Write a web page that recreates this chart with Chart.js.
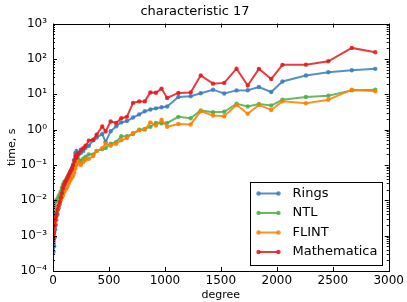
<!DOCTYPE html>
<html>
<head>
<meta charset="utf-8">
<script src="https://cdn.jsdelivr.net/npm/chart.js@4.4.0/dist/chart.umd.min.js"></script>
<style>
  html, body { margin: 0; padding: 0; background: #fff; }
  #wrap { width: 407px; height: 302px; }
</style>
</head>
<body>
<div id="wrap"><canvas id="chart" width="407" height="302"></canvas></div>
<script>
// polynomial degree for each benchmark point
const degrees = [5, 10, 15, 20, 25, 30, 40, 50, 60, 70, 80, 90, 100,
  110, 120, 130, 140, 150, 160, 170, 180, 190, 200, 210, 220, 230,
  250, 270, 290, 320, 360, 390, 440, 470, 515, 565, 610, 660, 715, 770,
  820, 870, 920, 970, 1020, 1120, 1230, 1320, 1430, 1530, 1640, 1740,
  1840, 1950, 2050, 2260, 2460, 2670, 2880];

// time in seconds
const rings = [3.5e-4, 5e-4, 9e-4, 1.5e-3, 2e-3, 2.8e-3, 4e-3, 6e-3, 8e-3, 1.1e-2, 1.5e-2, 2e-2, 2.5e-2,
  3e-2, 3.5e-2, 4.2e-2, 5e-2, 6e-2, 7e-2, 8.5e-2, 0.1, 0.14, 0.22, 0.25, 0.18, 0.2,
  0.22, 0.25, 0.3, 0.35, 0.5, 0.6, 0.75, 0.45, 0.9, 1.25, 1.6, 1.75, 2.2, 2.7,
  3.3, 3.7, 4.0, 4.3, 4.5, 8.4, 8.8, 10.7, 13.5, 10.5, 12.9, 13,
  16, 11.6, 23, 34, 42, 48, 52.5];
const ntl = [2e-3, 4e-3, 7e-3, 9e-3, 9.5e-3, 1e-2, 1.1e-2, 1.3e-2, 1.5e-2, 1.8e-2, 2.3e-2, 2.8e-2, 3.3e-2,
  3.5e-2, 3.8e-2, 4.2e-2, 4.8e-2, 5.5e-2, 6.2e-2, 7e-2, 8e-2, 9e-2, 0.1, 0.12, 0.15, 0.14,
  0.13, 0.15, 0.17, 0.2, 0.2, 0.25, 0.28, 0.3, 0.4, 0.45, 0.65, 0.65, 0.75, 1.0,
  1.05, 1.2, 1.55, 1.5, 1.55, 2.3, 2.1, 3.5, 3.1, 3.2, 5.4, 4.5,
  5.3, 4.8, 7.0, 8.4, 9.1, 12.9, 13.5];
const flint = [1e-3, 1.5e-3, 2e-3, 2.5e-3, 3e-3, 3.5e-3, 5e-3, 6.5e-3, 8e-3, 1e-2, 1.2e-2, 1.4e-2, 1.7e-2,
  2e-2, 2.2e-2, 2.5e-2, 3e-2, 3.5e-2, 4e-2, 4.5e-2, 5e-2, 6e-2, 8e-2, 0.1, 0.13, 0.11,
  0.1, 0.12, 0.14, 0.15, 0.18, 0.25, 0.3, 0.4, 0.35, 0.4, 0.5, 0.58, 0.8, 0.95,
  1.0, 1.6, 1.3, 1.9, 1.2, 1.45, 1.4, 3.3, 2.5, 2.4, 5.0, 2.8,
  5.0, 3.6, 6.3, 5.6, 7.0, 13.5, 12.1];
const mathematica = [8e-4, 1.2e-3, 2e-3, 2.8e-3, 3.5e-3, 4.2e-3, 5.5e-3, 7e-3, 9e-3, 1.2e-2, 1.6e-2, 2.2e-2, 2.8e-2,
  3.3e-2, 3.8e-2, 4.5e-2, 5.2e-2, 6e-2, 7e-2, 8e-2, 0.1, 0.13, 0.18, 0.16, 0.2, 0.22,
  0.27, 0.3, 0.35, 0.49, 0.52, 0.72, 1.23, 0.89, 1.7, 1.55, 2.1, 2.3, 5.7, 6.3,
  6.3, 11.3, 11, 14.5, 7.85, 10.9, 11.3, 34, 20, 21, 53, 17.8,
  52.5, 27, 68, 69, 86, 205, 154];

const seriesNames = ['Rings', 'NTL', 'FLINT', 'Mathematica'];
const seriesValues = [rings, ntl, flint, mathematica];
const seriesColors = ['55,126,184', '77,175,74', '255,127,0', '228,26,28'];

const xTicks = [0, 500, 1000, 1500, 2000, 2500, 3000];
const yTicks = [1e-4, 1e-3, 1e-2, 1e-1, 1e0, 1e1, 1e2, 1e3];
const yTickLabels = ['10⁻⁴', '10⁻³', '10⁻²', '10⁻¹', '10⁰', '10¹', '10²', '10³'];

const FONT = 'DejaVu Sans';

// matplotlib-like frame, inward ticks and boxed legend
const framePlugin = {
  id: 'frame',
  afterDraw(chart) {
    const { ctx, chartArea: ca, scales } = chart;
    ctx.save();
    ctx.strokeStyle = '#000';
    ctx.lineWidth = 1;
    ctx.strokeRect(Math.round(ca.left) + 0.5, Math.round(ca.top) + 0.5,
      Math.round(ca.right - ca.left), Math.round(ca.bottom - ca.top));

    ctx.beginPath();
    xTicks.forEach(v => {
      const x = Math.round(scales.x.getPixelForValue(v)) + 0.5;
      ctx.moveTo(x, ca.bottom); ctx.lineTo(x, ca.bottom - 4);
      ctx.moveTo(x, ca.top); ctx.lineTo(x, ca.top + 4);
    });
    for (let e = -4; e <= 3; e++) {
      const y = Math.round(scales.y.getPixelForValue(Math.pow(10, e))) + 0.5;
      ctx.moveTo(ca.left, y); ctx.lineTo(ca.left + 4, y);
      ctx.moveTo(ca.right, y); ctx.lineTo(ca.right - 4, y);
      if (e < 3) {
        for (let m = 2; m <= 9; m++) {
          const ym = Math.round(scales.y.getPixelForValue(m * Math.pow(10, e))) + 0.5;
          ctx.moveTo(ca.left, ym); ctx.lineTo(ca.left + 2, ym);
          ctx.moveTo(ca.right, ym); ctx.lineTo(ca.right - 2, ym);
        }
      }
    }
    ctx.stroke();

    // legend
    const bx = Math.round(ca.right - 139) + 0.5;
    const by = Math.round(ca.top + 158) + 0.5;
    const bw = 132, bh = 83;
    ctx.fillStyle = '#fff';
    ctx.fillRect(bx, by, bw, bh);
    ctx.strokeRect(bx, by, bw, bh);
    ctx.font = '13px "' + FONT + '"';
    ctx.textBaseline = 'middle';
    seriesNames.forEach((name, i) => {
      const y = by + 11 + i * 19.5;
      const col = 'rgba(' + seriesColors[i] + ',0.85)';
      ctx.strokeStyle = col;
      ctx.lineWidth = 2;
      ctx.beginPath();
      ctx.moveTo(bx + 8, y); ctx.lineTo(bx + 28, y);
      ctx.stroke();
      ctx.fillStyle = col;
      [bx + 8, bx + 28].forEach(px => {
        ctx.beginPath(); ctx.arc(px, y, 2.2, 0, Math.PI * 2); ctx.fill();
      });
      ctx.fillStyle = '#000';
      ctx.fillText(name, bx + 42, y);
    });
    ctx.restore();
  }
};

const datasets = seriesNames.map((name, i) => ({
  label: name,
  data: degrees.map((d, k) => ({ x: d, y: seriesValues[i][k] })),
  borderColor: 'rgba(' + seriesColors[i] + ',0.85)',
  backgroundColor: 'rgba(' + seriesColors[i] + ',0.85)',
  borderWidth: 2,
  pointRadius: 2.2,
  pointBorderWidth: 0,
  tension: 0,
  order: 4 - i
}));

new Chart(document.getElementById('chart'), {
  type: 'line',
  data: { datasets },
  options: {
    responsive: false,
    animation: false,
    devicePixelRatio: 1,
    layout: { padding: { left: 0, right: 17, top: 0, bottom: 0 } },
    plugins: {
      legend: { display: false },
      tooltip: { enabled: false },
      title: {
        display: true,
        text: 'characteristic 17',
        color: '#000',
        font: { family: FONT, size: 13, weight: 'normal' },
        padding: { top: 4, bottom: 4 }
      }
    },
    scales: {
      x: {
        type: 'linear',
        min: 0,
        max: 3000,
        afterBuildTicks: s => { s.ticks = xTicks.map(v => ({ value: v })); },
        afterFit: s => { s.height = 31; },
        grid: { display: false, drawTicks: false },
        border: { display: false },
        ticks: {
          color: '#000',
          font: { family: FONT, size: 12 },
          padding: 3,
          maxRotation: 0,
          autoSkip: false,
          callback: v => String(v)
        },
        title: {
          display: true,
          text: 'degree',
          color: '#000',
          font: { family: FONT, size: 11 },
          padding: { top: 0, bottom: 0 }
        }
      },
      y: {
        type: 'logarithmic',
        min: 1e-4,
        max: 1e3,
        afterBuildTicks: s => { s.ticks = yTicks.map(v => ({ value: v })); },
        afterFit: s => { s.width = 53; },
        grid: { display: false, drawTicks: false },
        border: { display: false },
        ticks: {
          color: '#000',
          font: { family: FONT, size: 12 },
          padding: 6,
          autoSkip: false,
          callback: (v) => {
            const i = yTicks.findIndex(t => Math.abs(Math.log10(t) - Math.log10(v)) < 1e-6);
            return i >= 0 ? yTickLabels[i] : '';
          }
        },
        title: {
          display: true,
          text: 'time, s',
          color: '#000',
          font: { family: FONT, size: 11 },
          padding: { top: 6, bottom: 0 }
        }
      }
    }
  },
  plugins: [framePlugin]
});
</script>
</body>
</html>
